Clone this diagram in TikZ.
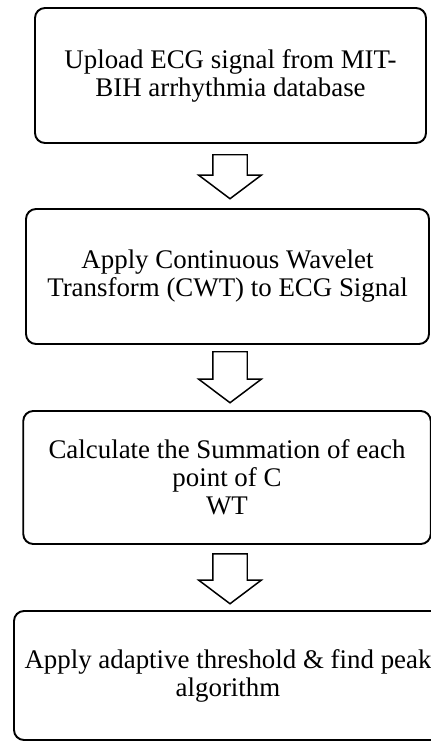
\documentclass[tikz,border=0pt]{standalone}
\usepackage{fontspec}
\setmainfont{Liberation Serif}
\usetikzlibrary{shapes.arrows}

\begin{document}
\begin{tikzpicture}[
    font=\fontsize{15.3}{15.9}\selectfont,
    stage/.style={rectangle, draw=black, line width=1.1pt, rounded corners=0.2cm, align=center, inner sep=2pt, fill=white},
    flowarrow/.style={single arrow, draw=black, line width=0.85pt, shape border rotate=270, single arrow tip angle=106, single arrow head extend=0.28cm, text width=0.66cm, text height=0pt, text depth=0pt, minimum width=1.22cm, minimum height=#1, anchor=tail, inner sep=0pt}
]
\useasboundingbox (0,0) rectangle (8.6,-14.84);

\node[stage, minimum width=7.82cm, minimum height=2.70cm] (Upload) at (4.61,-1.51) {Upload ECG signal from MIT-\\BIH arrhythmia database};
\node[stage, minimum width=8.06cm, minimum height=2.70cm] (ApplyCWT) at (4.55,-5.53) {Apply Continuous Wavelet\\Transform (CWT) to ECG Signal};
\node[stage, minimum width=8.15cm, minimum height=2.66cm] (SumCWT) at (4.54,-9.55) {Calculate the Summation of each\\point of C\\WT};
\node[stage, minimum width=8.56cm, minimum height=2.58cm] (Threshold) at (4.56,-13.51) {Apply adaptive threshold \& find peak\\algorithm};

\node[flowarrow=0.88cm] (ArrUpload) at (4.6,-3.08) {};
\node[flowarrow=1.02cm] (ArrCWT) at (4.6,-7.02) {};
\node[flowarrow=1.00cm] (ArrSum) at (4.6,-11.06) {};
\end{tikzpicture}
\end{document}
